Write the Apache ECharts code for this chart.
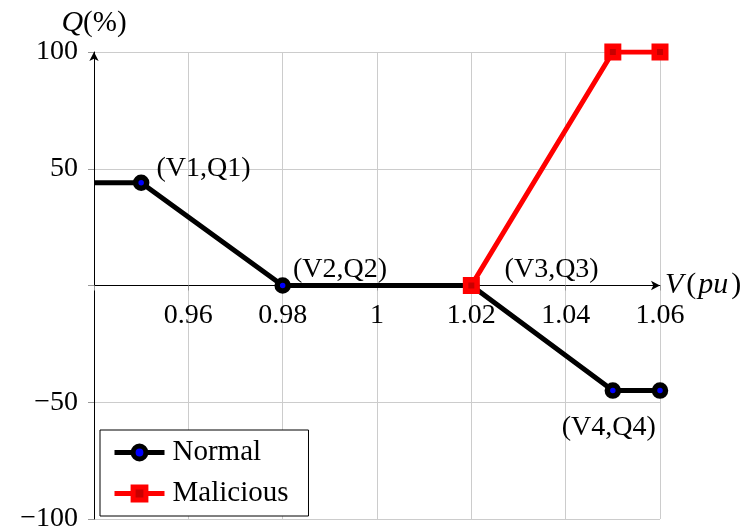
<!DOCTYPE html>
<html><head><meta charset="utf-8">
<script src="https://cdn.jsdelivr.net/npm/echarts@6/dist/echarts.min.js"></script>
<style>html,body{margin:0;padding:0;background:#fff}#c{width:750px;height:531px}</style>
</head><body><div id="c"></div>
<script>
const xTicks = [0.94, 0.96, 0.98, 1.00, 1.02, 1.04, 1.06];
const yTicks = [-100, -50, 0, 50, 100];
const normalV = [0.94, 0.95, 0.98, 1.02, 1.05, 1.06];
const normalQ = [44, 44, 0, 0, -45, -45];
const maliciousV = [1.02, 1.05, 1.06];
const maliciousQ = [0, 100, 100];
const pointLabels = ['', '(V1,Q1)', '(V2,Q2)', '(V3,Q3)', '(V4,Q4)', ''];

const FONT = 'Liberation Serif';
const FS = 28;
const labelCfg = [
  null,
  {position: 'right', offset: [2, -14]},
  {position: 'right', offset: [-3, -16]},
  {position: 'right', offset: [20, -16]},
  {position: 'bottom', offset: [-4, 10]},
  null
];
const normalData = normalV.map((v, i) => {
  const d = {value: [v, normalQ[i]]};
  if (i === 0) d.symbol = 'none';
  if (pointLabels[i]) {
    d.label = Object.assign({show: true, formatter: pointLabels[i], color: '#000',
      fontFamily: FONT, fontSize: FS}, labelCfg[i]);
  }
  return d;
});
const maliciousData = maliciousV.map((v, i) => [v, maliciousQ[i]]);

function xAxisCfg(offset) {
  return {
    type: 'value', min: xTicks[0], max: xTicks[xTicks.length - 1], interval: 0.02,
    position: 'bottom', offset: offset,
    axisLine: {onZero: false, lineStyle: {color: '#000', width: 1}, symbol: ['none', 'arrow'], symbolSize: [7, 9]},
    axisTick: {show: true, length: 5, lineStyle: {color: '#999'}},
    axisLabel: {
      margin: 16, color: '#000', fontFamily: FONT, fontSize: FS,
      formatter: v => { const r = Math.round(v * 100) / 100; return r === xTicks[0] ? '' : String(r); }
    },
    splitLine: {show: true, lineStyle: {color: '#cccccc', width: 1}},
    name: '{i|V}{n|(}{i|pu}{n|)}', nameLocation: 'end', nameGap: 5,
    nameTextStyle: {
      rich: {
        i: {fontFamily: FONT, fontStyle: 'italic', fontSize: 30, color: '#000'},
        n: {fontFamily: FONT, fontSize: 30, color: '#000', padding: [0, 2, 0, 3]}
      }
    }
  };
}

const chart = echarts.init(document.getElementById('c'));
const option = {
  animation: false,
  backgroundColor: '#fff',
  grid: {left: 94, right: 90, top: 52, bottom: 12, containLabel: false, outerBoundsMode: 'none'},
  xAxis: xAxisCfg(0),
  yAxis: {
    type: 'value', min: yTicks[0], max: yTicks[yTicks.length - 1], interval: 50,
    axisLine: {show: true, onZero: false, lineStyle: {color: '#000', width: 1}, symbol: ['none', 'arrow'], symbolSize: [7, 9]},
    axisTick: {show: true, length: 6, lineStyle: {color: '#999'}},
    axisLabel: {
      margin: 16, color: '#000', fontFamily: FONT, fontSize: FS,
      formatter: v => v === 0 ? '' : (v < 0 ? '\u2212' + Math.abs(v) : String(v))
    },
    splitLine: {show: true, lineStyle: {color: '#cccccc', width: 1}},
    name: '{i|Q}{n|(%)}', nameLocation: 'end', nameGap: 12,
    nameTextStyle: {
      rich: {
        i: {fontFamily: FONT, fontStyle: 'italic', fontSize: 30, color: '#000'},
        n: {fontFamily: FONT, fontSize: 29, color: '#000'}
      }
    }
  },
  legend: {
    orient: 'vertical', left: 100, top: 430,
    borderColor: '#000', borderWidth: 1, backgroundColor: '#fff',
    padding: [8, 20, 8, 12], itemGap: 12, itemWidth: 50, itemHeight: 16,
    lineStyle: {width: 5},
    itemStyle: {borderWidth: 5},
    textStyle: {fontFamily: FONT, fontSize: 29, color: '#000', padding: [0, 0, 0, 3]},
    data: ['Normal', 'Malicious']
  },
  series: [
    {
      name: 'Normal', type: 'line', data: normalData,
      symbol: 'circle', symbolSize: 11, showAllSymbol: true,
      lineStyle: {color: '#000', width: 5},
      itemStyle: {color: '#0000ff', borderColor: '#000', borderWidth: 5.5},
      z: 2
    },
    {
      name: 'Malicious', type: 'line', data: maliciousData,
      symbol: 'rect', symbolSize: 11.5,
      lineStyle: {color: '#ff0000', width: 5},
      itemStyle: {color: '#c80000', borderColor: '#ff0000', borderWidth: 5.5},
      z: 3
    }
  ]
};
chart.setOption(option);
// move the x axis up so that it crosses the y axis at Q = 0
const yZero = chart.convertToPixel({yAxisIndex: 0}, 0);
const yBottom = chart.convertToPixel({yAxisIndex: 0}, yTicks[0]);
chart.setOption({xAxis: xAxisCfg(-(yBottom - yZero))});
</script></body></html>
